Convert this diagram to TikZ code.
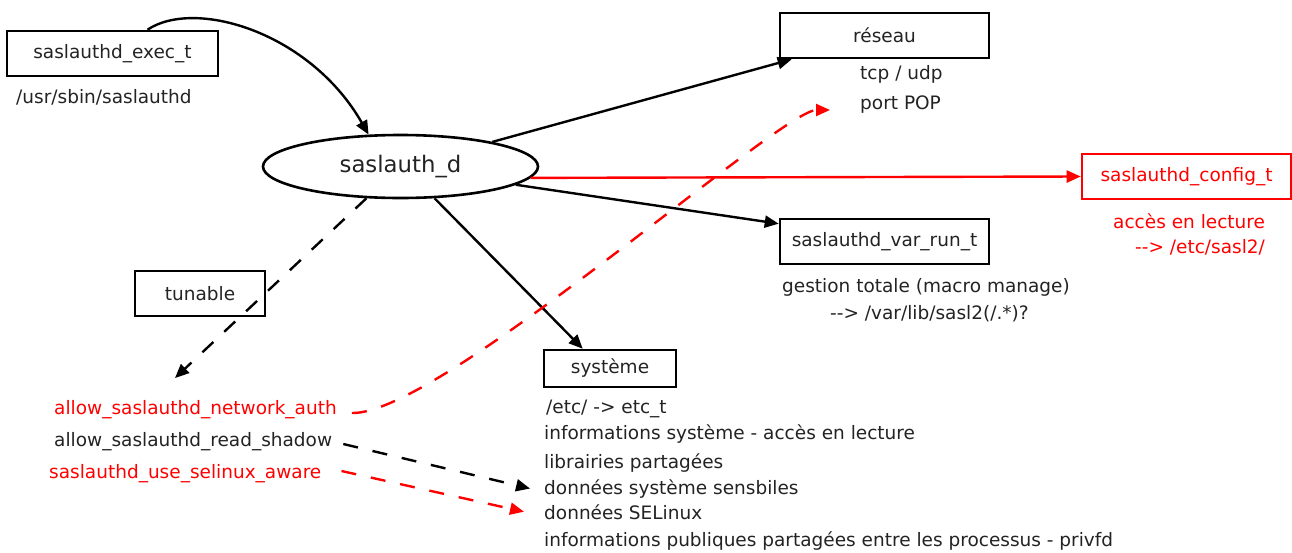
\documentclass[tikz,border=0pt]{standalone}
\usepackage{fontspec}
\setmainfont{DejaVu Sans}
\usetikzlibrary{shapes.geometric,arrows.meta}
\definecolor{rouge}{RGB}{255,0,0}
\definecolor{texte}{RGB}{35,35,35}

\begin{document}
\begin{tikzpicture}[x=1pt, y=-1pt,
        font=\fontsize{18.5}{22}\selectfont,
        boite/.style={draw, line width=2.6pt, minimum width=209pt, minimum height=45pt, inner sep=0pt, text=texte},
        etiq/.style={anchor=base west, inner sep=0pt, text=texte},
        fleche/.style={line width=2.4pt, -{Triangle[length=14pt,width=12pt]}},
        tirets/.style={dash pattern=on 15pt off 15pt}]

        \useasboundingbox (0,0) rectangle (1292,552);

        % --- DOMAINES ---
        \node[boite, minimum width=211pt] (exec) at (112.5,53.5) {saslauthd\_exec\_t};
        \node[draw, ellipse, line width=2.6pt, minimum width=275pt, minimum height=63pt, inner sep=0pt,
              text=texte, font=\fontsize{22.8}{26}\selectfont] (sasl) at (400.5,166.5) {saslauth\_d};
        \node[boite] (reseau) at (884.5,35.5) {réseau};
        \node[boite, draw=rouge, text=rouge] (config) at (1186.5,176.5) {saslauthd\_config\_t};
        \node[boite] (varrun) at (884.5,241.5) {saslauthd\_var\_run\_t};
        \node[boite, minimum width=132pt, minimum height=37pt] (systeme) at (610,368.5) {système};
        \node[boite, minimum width=130pt] (tunable) at (200,293.5) {tunable};

        % --- Textes sous les boites ---
        \node[etiq] (binaire) at (16,103) {/usr/sbin/saslauthd};
        \node[etiq] (tcp) at (860,79) {tcp / udp};
        \node[etiq] (port) at (860,109) {port POP};
        \node[etiq, text=rouge] (lecture) at (1113,228) {accès en lecture};
        \node[etiq, text=rouge] (sasldir) at (1135,253) {-{}-> /etc/sasl2/};
        \node[etiq] (gestion) at (782,292) {gestion totale (macro manage)};
        \node[etiq] (varlib) at (830,319) {-{}-> /var/lib/sasl2(/.*)?};

        \node[etiq] (etc) at (546,413) {/etc/ -> etc\_t};
        \node[etiq] (infosys) at (544,439) {informations système - accès en lecture};
        \node[etiq] (libs) at (544,468) {librairies partagées};
        \node[etiq] (donsys) at (544,494) {données système sensbiles};
        \node[etiq] (donselinux) at (544,519) {données SELinux};
        \node[etiq] (infopub) at (544,546) {informations publiques partagées entre les processus - privfd};

        % --- Booleens ---
        \node[etiq, text=rouge] (netauth) at (54,414) {allow\_saslauthd\_network\_auth};
        \node[etiq] (shadow) at (54,446) {allow\_saslauthd\_read\_shadow};
        \node[etiq, text=rouge] (selinux) at (49,478) {saslauthd\_use\_selinux\_aware};
        \coordinate (booleens) at (175,378);

        % --- FLECHES ---
        \draw[fleche] ([xshift=35pt]exec.north) .. controls (195,-2) and (310,32) .. (sasl.135);
        \draw[fleche] (sasl.15) -- ([xshift=13pt]reseau.south west);
        \draw[fleche, rouge] (sasl.-5) -- (config.west);
        \draw[fleche] (sasl.-9) -- ([yshift=-6pt]varrun.north west);
        \draw[fleche] (sasl.-43) -- ([xshift=40pt]systeme.north west);
        \draw[fleche, tirets] (sasl.-137) -- (booleens);

        % fleches en tirets des booleens
        \draw[fleche, tirets, rouge] ([xshift=15pt,yshift=1pt]netauth.base east)
            .. controls (440,415) and (780,110) .. ([xshift=-30pt,yshift=-1pt]port.base west);
        \draw[fleche, tirets] ([xshift=11pt,yshift=2pt]shadow.base east) -- ([xshift=-14pt]donsys.west);
        \draw[fleche, tirets, rouge] ([xshift=20pt,yshift=7pt]selinux.base east) -- ([xshift=-20pt]donselinux.west);

    \end{tikzpicture}
\end{document}
